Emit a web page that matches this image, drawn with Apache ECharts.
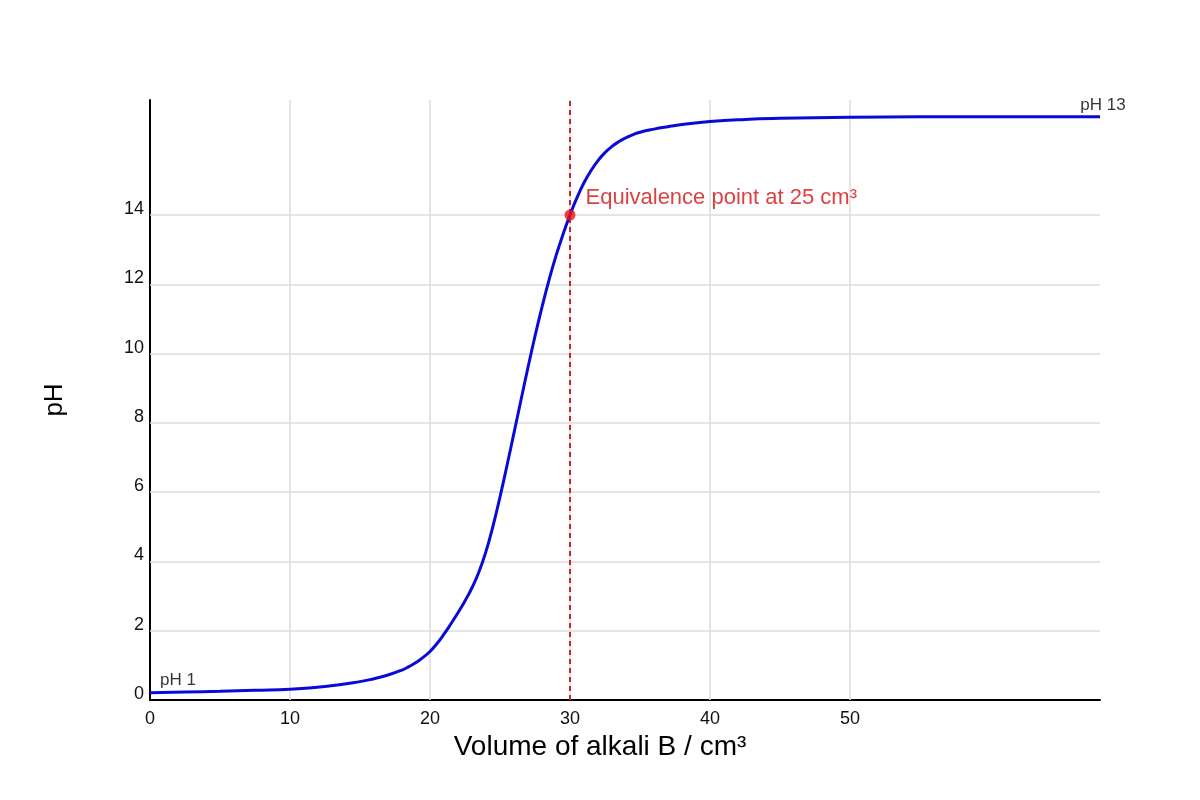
<!DOCTYPE html>
<html>
<head>
<meta charset="utf-8">
<script src="https://cdn.jsdelivr.net/npm/echarts@6/dist/echarts.min.js"></script>
<style>
html,body{margin:0;padding:0;background:#fff;}
#chart{width:1200px;height:800px;}
</style>
</head>
<body>
<div id="chart"></div>
<script>
// ---- data ----
const volume = [0, 2.5, 5, 7.5, 10, 12.5, 15, 16, 17, 18, 18.5, 19, 19.5, 20, 20.5, 21, 21.5, 22, 22.5, 23, 23.5, 24, 24.5, 25, 25.5, 26, 26.5, 27, 27.5, 28, 28.5, 29, 29.5, 30, 30.5, 31, 31.5, 32, 32.5, 33, 33.5, 34, 34.5, 35, 36, 37, 38, 40, 42.5, 45, 50, 55, 60, 67.86];
const phValues = [0.21, 0.23, 0.25, 0.28, 0.31, 0.39, 0.53, 0.615, 0.72, 0.865, 0.965, 1.08, 1.23, 1.40, 1.63, 1.90, 2.2, 2.52, 2.86, 3.24, 3.70, 4.29, 5.02, 5.86, 6.77, 7.71, 8.66, 9.6, 10.5, 11.34, 12.12, 12.82, 13.44, 14.0, 14.5, 14.93, 15.28, 15.57, 15.8, 15.98, 16.12, 16.23, 16.32, 16.39, 16.48, 16.55, 16.61, 16.70, 16.76, 16.79, 16.82, 16.835, 16.84, 16.84];
const xTicks = [0, 10, 20, 30, 40, 50];
const yTicks = [0, 2, 4, 6, 8, 10, 12, 14];
const equivalence = [30, 14];
const equivalenceText = 'Equivalence point at 25 cm³';
const startText = 'pH 1';
const endText = 'pH 13';
const xTitle = 'Volume of alkali B / cm³';
const yTitle = 'pH';

const curve = volume.map((v, i) => [v, phValues[i]]);
const last = curve.length - 1;

const chart = echarts.init(document.getElementById('chart'), null, {renderer: 'canvas'});
const FONT = '"Liberation Sans", Arial, sans-serif';

chart.setOption({
  animation: false,
  backgroundColor: '#ffffff',
  grid: {left: 150, right: 100, top: 100, bottom: 100, containLabel: false},
  xAxis: {
    type: 'value', min: 0, max: 67.86, interval: 10,
    name: xTitle, nameLocation: 'middle', nameGap: 33,
    nameTextStyle: {fontSize: 28, color: '#000', fontFamily: FONT, padding: [0, 50, 0, 0]},
    axisLine: {show: true, onZero: false, lineStyle: {color: '#000', width: 2}},
    axisTick: {show: false},
    splitLine: {show: false},
    axisLabel: {
      fontSize: 18, color: '#111', fontFamily: FONT, margin: 10,
      showMaxLabel: false,
      formatter: v => (xTicks.indexOf(v) >= 0 ? String(v) : '')
    }
  },
  yAxis: {
    type: 'value', min: 0, max: 17.32, interval: 2,
    name: yTitle, nameLocation: 'middle', nameGap: 82,
    nameTextStyle: {fontSize: 26, color: '#000', fontFamily: FONT},
    axisLine: {show: true, onZero: false, lineStyle: {color: '#000', width: 2}},
    axisTick: {show: false},
    splitLine: {show: false},
    axisLabel: {
      fontSize: 18, color: '#111', fontFamily: FONT, margin: 6,
      verticalAlign: 'bottom', lineHeight: 18, padding: [0, 0, -3, 0],
      showMaxLabel: false,
      formatter: v => (yTicks.indexOf(v) >= 0 ? String(v) : '')
    }
  },
  series: [
    {
      // grid lines drawn from the tick arrays
      type: 'line', data: [], silent: true, z: 1,
      markLine: {
        silent: true, symbol: ['none', 'none'], label: {show: false},
        lineStyle: {color: '#dddddd', width: 1.5, type: 'solid'},
        data: xTicks.filter(v => v > 0).map(v => ({xAxis: v}))
          .concat(yTicks.filter(v => v > 0).map(v => ({yAxis: v})))
      }
    },
    {
      type: 'line', data: curve, smooth: 0.5, zlevel: 1,
      showSymbol: false, symbol: 'none', z: 3,
      lineStyle: {color: '#0a0ad8', width: 3},
      markLine: {
        silent: true, symbol: ['none', 'none'], label: {show: false},
        lineStyle: {color: '#c62828', width: 2, type: [5, 4]},
        data: [{xAxis: equivalence[0]}]
      }
    },
    {
      type: 'scatter', z: 5, zlevel: 2, silent: true,
      data: [
        {value: equivalence, symbolSize: 11, itemStyle: {color: '#ee1111'},
         label: {show: true, formatter: equivalenceText, position: 'right', distance: 10, offset: [0, -17],
                 color: '#d41010', fontSize: 22, fontFamily: FONT}},
        {value: curve[0], symbolSize: 0,
         label: {show: true, formatter: startText, position: [10, -4], align: 'left', verticalAlign: 'bottom',
                 color: '#000', fontSize: 17, fontFamily: FONT}},
        {value: curve[last], symbolSize: 0,
         label: {show: true, formatter: endText, position: [3, -3], align: 'center', verticalAlign: 'bottom',
                 color: '#000', fontSize: 17, fontFamily: FONT}}
      ]
    }
  ]
});
</script>
</body>
</html>
